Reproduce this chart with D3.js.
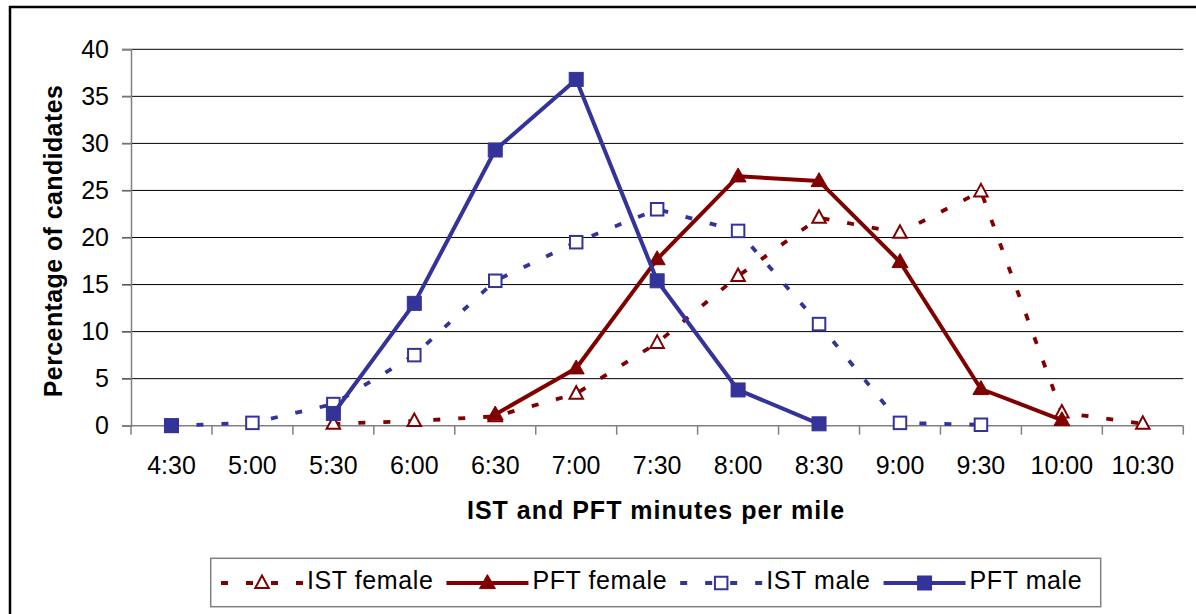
<!DOCTYPE html>
<html>
<head>
<meta charset="utf-8">
<script src="https://cdn.jsdelivr.net/npm/d3@7"></script>
<style>
  html, body { margin: 0; padding: 0; background: #fff; }
  svg { display: block; }
  text { font-family: "Liberation Sans", Arial, sans-serif; fill: #000; }
</style>
</head>
<body>
<svg id="chart" width="1196" height="614"></svg>
<script>
// ---- data ----
const categories = ["4:30","5:00","5:30","6:00","6:30","7:00","7:30","8:00","8:30","9:00","9:30","10:00","10:30"];
const istFemale = [null, null, 0.2, 0.5, 1.0, 3.4, 8.8, 15.9, 22.1, 20.5, 24.9, 1.4, 0.2];
const pftFemale = [null, null, null, null, 1.2, 6.1, 17.7, 26.5, 26.0, 17.4, 3.9, 0.6, null];
const istMale   = [0, 0.3, 2.3, 7.5, 15.4, 19.5, 23.0, 20.7, 10.8, 0.3, 0.1, null, null];
const pftMale   = [0, null, 1.3, 13.0, 29.3, 36.8, 15.4, 3.8, 0.2, null, null, null, null];
const yTicks = [0, 5, 10, 15, 20, 25, 30, 35, 40];
const seriesNames = ["IST female", "PFT female", "IST male", "PFT male"];
const yTitle = "Percentage of candidates";
const xTitle = "IST and PFT minutes per mile";

(function () {
// ---- styles ----
const RED = "#800000", BLUE = "#333399";
const series = [
  { name: seriesNames[0], values: istFemale, color: RED,  dash: "7,18", width: 3.8, marker: "triangle", filled: false },
  { name: seriesNames[1], values: pftFemale, color: RED,  dash: null,   width: 4,   marker: "triangle", filled: true },
  { name: seriesNames[2], values: istMale,   color: BLUE, dash: "7,18", width: 3.8, marker: "square",   filled: false },
  { name: seriesNames[3], values: pftMale,   color: BLUE, dash: null,   width: 4,   marker: "square",   filled: true }
];

const svg = d3.select("#chart");

// outer frame (cropped by image edges)
svg.append("rect").attr("x", 10).attr("y", 7).attr("width", 1250).attr("height", 700)
  .attr("fill", "#fff").attr("stroke", "#000").attr("stroke-width", 2.5);

const pLeft = 131, pRight = 1183.3, pTop = 49.3, pBottom = 425.7;
const x = d3.scaleBand().domain(categories).range([pLeft, pRight]);
const bw = x.bandwidth();
const cx = c => x(c) + bw / 2;
const y = d3.scaleLinear().domain([0, 40]).range([pBottom, pTop]);

// gridlines
svg.append("g").selectAll("line").data(yTicks.filter(t => t > 0)).join("line")
  .attr("x1", pLeft - 9).attr("x2", pRight)
  .attr("y1", d => y(d)).attr("y2", d => y(d))
  .attr("stroke", "#000").attr("stroke-width", 1);

// y axis
const yAxis = d3.axisLeft(y).tickValues(yTicks).tickSize(9).tickPadding(13);
const gy = svg.append("g").attr("transform", `translate(${pLeft},0)`).call(yAxis);
gy.select(".domain").attr("stroke", "#808080").attr("stroke-width", 1.5);
gy.selectAll(".tick line").attr("stroke", "#808080").attr("stroke-width", 1.5);
gy.selectAll(".tick text").attr("font-size", 25).attr("font-family", "Liberation Sans, Arial, sans-serif").attr("fill", "#000");

// x axis with ticks at band boundaries
const gx = svg.append("g").attr("transform", `translate(0,${pBottom})`);
gx.append("line").attr("x1", pLeft - 9).attr("x2", pRight).attr("y1", 0).attr("y2", 0)
  .attr("stroke", "#808080").attr("stroke-width", 1.5);
const bounds = categories.map(c => x(c)).concat([pRight]);
gx.selectAll("line.tk").data(bounds).join("line").attr("class", "tk")
  .attr("x1", d => d).attr("x2", d => d).attr("y1", 0).attr("y2", 9)
  .attr("stroke", "#808080").attr("stroke-width", 1.5);
gx.selectAll("text").data(categories).join("text")
  .attr("x", d => cx(d)).attr("y", 48).attr("text-anchor", "middle")
  .attr("font-size", 25).text(d => d);

// axis titles
svg.append("text").attr("x", 656).attr("y", 519).attr("text-anchor", "middle")
  .attr("font-size", 25).attr("font-weight", "bold").attr("letter-spacing", 1)
  .text(xTitle);
svg.append("text").attr("transform", "translate(62,241) rotate(-90)").attr("text-anchor", "middle")
  .attr("font-size", 25).attr("font-weight", "bold").attr("letter-spacing", 0.4)
  .text(yTitle);

// markers
function drawMarker(g, s, px, py) {
  if (s.marker === "square") {
    const sz = s.filled ? 14 : 12.5;
    g.append("rect").attr("x", px - sz / 2).attr("y", py - sz / 2).attr("width", sz).attr("height", sz)
      .attr("fill", s.filled ? s.color : "#fff").attr("stroke", s.color).attr("stroke-width", s.filled ? 1 : 2);
  } else {
    const h = s.filled ? 14 : 12.5, w = s.filled ? 16 : 13.5;
    const pts = [[px, py - h * 0.6], [px - w / 2, py + h * 0.4], [px + w / 2, py + h * 0.4]];
    g.append("path").attr("d", "M" + pts.map(p => p.join(",")).join("L") + "Z")
      .attr("fill", s.filled ? s.color : "#fff").attr("stroke", s.color).attr("stroke-width", s.filled ? 1 : 2)
      .attr("stroke-linejoin", "miter");
  }
}

const line = d3.line()
  .defined(d => d.v !== null)
  .x(d => cx(d.c)).y(d => y(d.v));

series.forEach(s => {
  const pts = categories.map((c, i) => ({ c, v: s.values[i] }));
  const g = svg.append("g");
  g.append("path").datum(pts).attr("d", line).attr("fill", "none")
    .attr("stroke", s.color).attr("stroke-width", s.width)
    .attr("stroke-dasharray", s.dash).attr("stroke-linejoin", "round");
  pts.filter(p => p.v !== null).forEach(p => drawMarker(g, s, cx(p.c), y(p.v)));
});

// legend
const lg = svg.append("g");
lg.append("rect").attr("x", 210.7).attr("y", 558.3).attr("width", 890).attr("height", 48.4)
  .attr("fill", "#fff").attr("stroke", "#808080").attr("stroke-width", 1.5);
let lx = 221;
const ly = 583, symLen = 82;
series.forEach(s => {
  lg.append("line").attr("x1", lx).attr("x2", lx + symLen).attr("y1", ly).attr("y2", ly)
    .attr("stroke", s.color).attr("stroke-width", s.width).attr("stroke-dasharray", s.dash ? "7,18" : null);
  drawMarker(lg, s, lx + symLen / 2, ly);
  const t = lg.append("text").attr("x", lx + symLen + 4).attr("y", 589).attr("font-size", 25)
    .attr("letter-spacing", 0.6).text(s.name);
  lx = lx + symLen + 4 + t.node().getComputedTextLength() + 13;
});
})();
</script>
</body>
</html>
